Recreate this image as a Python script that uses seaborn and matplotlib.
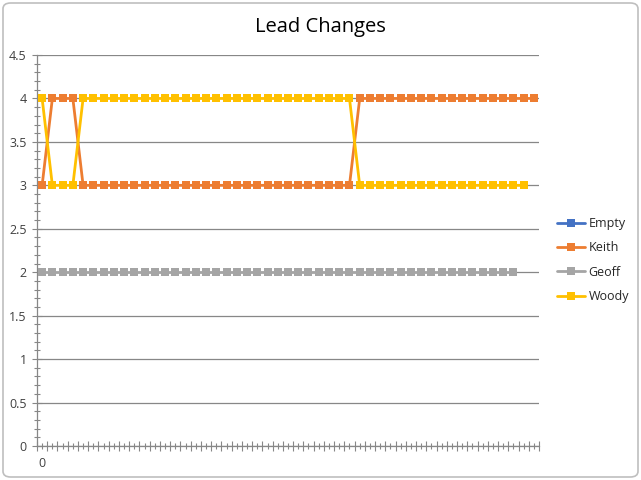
import pandas as pd
import matplotlib
matplotlib.use("Agg")
import matplotlib.pyplot as plt
import seaborn as sns
from matplotlib.lines import Line2D
from matplotlib.patches import FancyBboxPatch
from matplotlib.ticker import MultipleLocator, FixedLocator

# --- data (category index -> position) ---
keith = [3, 4, 4, 4] + [3] * 27 + [4] * 18
geoff = [2] * 47
woody = [4, 3, 3, 3] + [4] * 27 + [3] * 17
series_names = ["Empty", "Keith", "Geoff", "Woody"]
series_colors = ["#4472C4", "#ED7D31", "#A5A5A5", "#FFC000"]
n_categories = 49
x_labels = {0: "0"}
y_ticks = [0, 0.5, 1, 1.5, 2, 2.5, 3, 3.5, 4, 4.5]


def build_frame():
    rows = []
    for name, vals in [("Keith", keith), ("Geoff", geoff), ("Woody", woody)]:
        for i, v in enumerate(vals):
            rows.append({"idx": i, "value": v, "series": name})
    return pd.DataFrame(rows)


def plot_chart(df):
    sns.set_style("white", {"xtick.bottom": True, "ytick.left": True})
    plt.rcParams["font.family"] = ["Open Sans", "DejaVu Sans"]

    fig = plt.figure(figsize=(6.41, 4.8), dpi=100)
    ax = fig.add_axes([37 / 641, 34 / 480, 502 / 641, 391 / 480])

    palette = dict(zip(series_names, series_colors))
    for name in ["Keith", "Geoff", "Woody"]:
        sub = df[df["series"] == name]
        sns.lineplot(
            data=sub, x="idx", y="value", color=palette[name], marker="s",
            markersize=5.5, markeredgewidth=0, linewidth=2, ax=ax,
            legend=False, zorder=3,
        )

    ax.set_xlabel("")
    ax.set_ylabel("")

    # y axis: major 0.5 with gridlines, minor 0.1
    ax.yaxis.set_major_locator(FixedLocator(y_ticks))
    ax.yaxis.set_minor_locator(MultipleLocator(0.1))
    ax.set_yticklabels([f"{t:g}" for t in y_ticks])
    ax.grid(axis="y", color="#878787", linewidth=0.9, zorder=1)

    # x axis: category boundaries as major ticks, centres as minor ticks
    ax.xaxis.set_major_locator(FixedLocator([i - 0.5 for i in range(n_categories + 1)]))
    ax.xaxis.set_minor_locator(FixedLocator(list(range(n_categories))))
    ax.set_xticklabels([])
    ax.set_xticklabels([x_labels.get(i, "") for i in range(n_categories)], minor=True)

    ax.set_xlim(-0.5, n_categories - 0.5)
    ax.set_ylim(0, 4.5)

    ax.tick_params(axis="both", which="major", direction="inout", length=7,
                   width=0.8, color="#878787", labelsize=9, labelcolor="#404040")
    ax.tick_params(axis="both", which="minor", direction="inout", length=4,
                   width=0.8, color="#878787", labelsize=9, labelcolor="#404040")
    ax.tick_params(axis="x", which="minor", pad=6)
    ax.tick_params(axis="y", which="major", pad=4)

    for side in ["top", "right"]:
        ax.spines[side].set_visible(False)
    for side in ["left", "bottom"]:
        ax.spines[side].set_color("#878787")
        ax.spines[side].set_linewidth(0.9)

    fig.text(0.5, 1 - 27 / 480, "Lead Changes", ha="center", va="center",
             fontsize=14.5, color="#000000")

    handles = [
        Line2D([0], [0], color=c, linewidth=2, marker="s", markersize=5.5,
               markeredgewidth=0)
        for c in series_colors
    ]
    fig.legend(handles, series_names, loc="center left",
               bbox_to_anchor=(546 / 641, 1 - 260 / 480), frameon=False,
               fontsize=9, handlelength=2.2, labelspacing=0.9,
               handletextpad=0.3)

    border = FancyBboxPatch((3 / 641, 3 / 480), 635 / 641, 474 / 480,
                            boxstyle="round,pad=0,rounding_size=0.012",
                            transform=fig.transFigure, fill=False,
                            edgecolor="#BFBFBF", linewidth=1.2)
    fig.patches.append(border)

    fig.savefig("out.png", dpi=100)


if __name__ == "__main__":
    plot_chart(build_frame())
